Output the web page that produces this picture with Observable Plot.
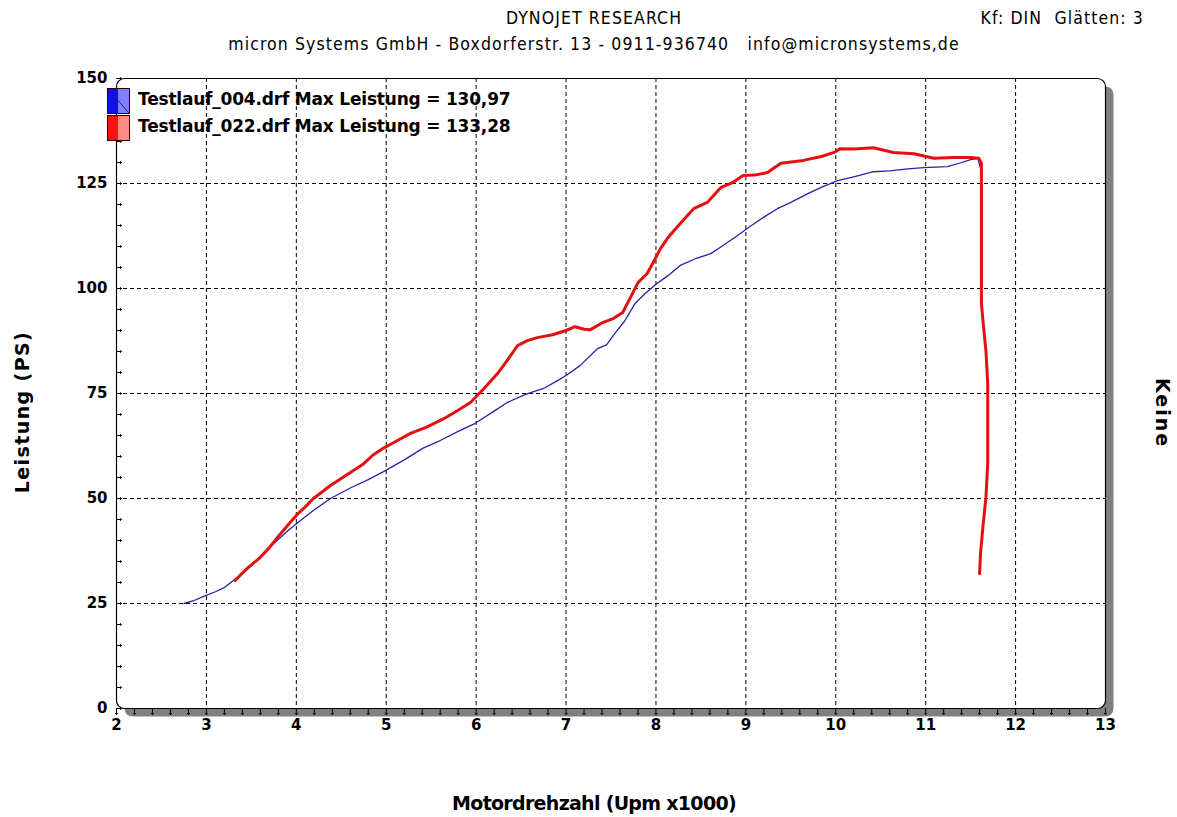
<!DOCTYPE html>
<html>
<head>
<meta charset="utf-8">
<script src="https://cdn.jsdelivr.net/npm/d3@7"></script>
<script src="https://cdn.jsdelivr.net/npm/@observablehq/plot@0.6"></script>
<style>
  html, body { margin: 0; padding: 0; background: #fff; }
  #wrap { position: relative; width: 1177px; height: 817px; overflow: hidden; font-family: "DejaVu Sans", sans-serif; color: #000; }
  .abs { position: absolute; white-space: pre; }
  .hdr { font-family: "DejaVu Sans Condensed", "DejaVu Sans", sans-serif; font-size: 17.5px; letter-spacing: 1.1px; }
  .leg { font-weight: bold; font-size: 17px; letter-spacing: -0.2px; }
  .sw { position: absolute; width: 23px; height: 26px; border: 1px solid #300; box-sizing: border-box; }
  #chart { position: absolute; left: 0; top: 60px; }
</style>
</head>
<body>
<div id="wrap">
  <div class="abs hdr" id="t1" style="left:0; width:1188px; text-align:center; top:8px;"></div>
  <div class="abs hdr" id="t3" style="right:33px; top:8px;"></div>
  <div class="abs hdr" id="t2" style="left:0; width:1188px; text-align:center; top:34px;"></div>
  <div id="chart"></div>
  <div id="legend"></div>
  <div class="abs" id="ylab" style="left:22px; top:412px; transform: translate(-50%,-50%) rotate(-90deg); font-weight:bold; font-size:19px; letter-spacing:1.4px;"></div>
  <div class="abs" id="rlab" style="left:1163px; top:413px; transform: translate(-50%,-50%) rotate(90deg); font-weight:bold; font-size:19px; letter-spacing:2px;"></div>
  <div class="abs" id="xlab" style="left:0; width:1188px; text-align:center; top:792px; font-weight:bold; font-size:19px; letter-spacing:-0.7px;"></div>
</div>
<script>
// ---- texts ----
const titleLine1 = "DYNOJET RESEARCH";
const titleLine2 = "micron Systems GmbH - Boxdorferstr. 13 - 0911-936740   info@micronsystems,de";
const titleRight = "Kf: DIN  Glätten: 3";
const yLabel = "Leistung (PS)";
const yRightLabel = "Keine";
const xLabel = "Motordrehzahl (Upm x1000)";
const seriesNames = ["Testlauf_004.drf Max Leistung = 130,97", "Testlauf_022.drf Max Leistung = 133,28"];
const seriesColors = ["#2424a8", "#e41010"];
const swatchColors = [["#1010e8", "#8080ff"], ["#ff1010", "#ff8888"]];

// ---- ticks ----
const xTicks = [2, 3, 4, 5, 6, 7, 8, 9, 10, 11, 12, 13];
const xGrid = [3, 4, 5, 6, 7, 8, 9, 10, 11, 12];
const xMinor = d3.range(10, 66).map(i => i / 5);
const yTicks = [0, 25, 50, 75, 100, 125, 150];
const yGrid = [25, 50, 75, 100, 125];
const yMinor = d3.range(0, 151, 5);

// ---- series: Testlauf_004 (blue) ----
const blueRpm = [2.75, 2.85, 2.97, 3.1, 3.2, 3.3, 3.45, 3.6, 3.75, 3.9, 4.0, 4.2, 4.38, 4.6, 4.8, 4.97, 5.2, 5.41, 5.6, 5.8, 5.99, 6.2, 6.35, 6.55, 6.75, 6.9, 7.0, 7.16, 7.35, 7.45, 7.55, 7.65, 7.77, 7.88, 8.0, 8.13, 8.27, 8.45, 8.61, 8.75, 8.9, 9.05, 9.2, 9.35, 9.5, 9.69, 9.85, 10.02, 10.2, 10.42, 10.6, 10.8, 10.98, 11.24, 11.4, 11.5, 11.58, 11.61];
const bluePS  = [25.0, 25.6, 26.7, 27.8, 28.8, 30.5, 33.0, 36.0, 39.3, 42.2, 44.0, 47.3, 50.0, 52.5, 54.5, 56.4, 59.2, 62.0, 63.8, 66.0, 67.9, 70.8, 72.9, 74.8, 76.2, 78.0, 79.3, 81.7, 85.7, 86.6, 89.5, 92.2, 96.5, 98.8, 101.0, 103.0, 105.5, 107.2, 108.3, 110.3, 112.5, 114.8, 117.0, 119.0, 120.5, 122.6, 124.2, 125.7, 126.6, 127.8, 128.0, 128.5, 128.8, 129.0, 130.0, 130.7, 131.0, 128.6];

// ---- series: Testlauf_022 (red) ----
const redRpm = [3.32, 3.45, 3.6, 3.7, 3.79, 3.9, 4.01, 4.1, 4.19, 4.3, 4.38, 4.55, 4.75, 4.85, 4.97, 5.1, 5.27, 5.45, 5.64, 5.8, 5.94, 6.08, 6.24, 6.35, 6.46, 6.57, 6.68, 6.85, 7.0, 7.1, 7.2, 7.27, 7.4, 7.53, 7.63, 7.72, 7.8, 7.9, 7.97, 8.05, 8.13, 8.27, 8.42, 8.57, 8.72, 8.85, 8.97, 9.1, 9.24, 9.39, 9.64, 9.85, 9.98, 10.05, 10.2, 10.42, 10.64, 10.87, 11.09, 11.31, 11.5, 11.59, 11.62, 11.62, 11.64, 11.67, 11.69, 11.69, 11.67, 11.64, 11.61, 11.6];
const redPS  = [30.5, 33.3, 36.0, 38.3, 40.7, 43.5, 46.2, 48.0, 50.0, 51.8, 53.1, 55.5, 58.3, 60.3, 62.0, 63.5, 65.5, 67.0, 69.0, 71.0, 72.9, 76.0, 79.8, 83.0, 86.4, 87.6, 88.3, 89.0, 90.0, 90.9, 90.3, 90.2, 91.8, 92.9, 94.3, 98.0, 101.4, 103.5, 106.2, 109.5, 112.0, 115.5, 119.0, 120.5, 124.0, 125.2, 126.9, 127.0, 127.6, 129.8, 130.5, 131.5, 132.4, 133.3, 133.2, 133.5, 132.4, 132.1, 131.0, 131.2, 131.2, 131.0, 129.8, 96.4, 91.7, 85.2, 77.4, 58.3, 50.2, 44.0, 36.9, 32.1];

// ---- header/labels ----
document.getElementById("t1").textContent = titleLine1;
document.getElementById("t2").textContent = titleLine2;
document.getElementById("t3").textContent = titleRight;
document.getElementById("ylab").textContent = yLabel;
document.getElementById("rlab").textContent = yRightLabel;
document.getElementById("xlab").textContent = xLabel;

// ---- legend ----
const leg = document.getElementById("legend");
seriesNames.forEach((name, i) => {
  const sw = document.createElement("div");
  sw.className = "sw";
  sw.style.left = "107px";
  sw.style.top = (88 + i * 27) + "px";
  sw.style.background = `linear-gradient(to right, ${swatchColors[i][0]} 0 50%, ${swatchColors[i][1]} 50% 100%)`;
  if (i === 0) {
    sw.innerHTML = '<svg width="21" height="24" style="position:absolute;left:0;top:0"><line x1="0" y1="0" x2="21" y2="24" stroke="#202060" stroke-width="1"/></svg>';
  }
  leg.appendChild(sw);
  const t = document.createElement("div");
  t.className = "abs leg";
  t.style.left = "138px";
  t.style.top = (89 + i * 27) + "px";
  t.textContent = name;
  leg.appendChild(t);
});

// ---- chart ----
const chart = Plot.plot({
  width: 1177,
  height: 700,
  marginTop: 18,
  marginBottom: 52,
  marginLeft: 116,
  marginRight: 72,
  x: { domain: [2, 13], label: null },
  y: { domain: [0, 150], label: null },
  style: { fontFamily: "DejaVu Sans, sans-serif", fontSize: "14px", fontWeight: "bold", color: "#000", background: "transparent" },
  marks: [
    Plot.frame({ fill: "#808080", stroke: null, dx: 8, dy: 8, rx: 8 }),
    Plot.frame({ fill: "white", stroke: null, rx: 8 }),
    Plot.gridX(xGrid, { stroke: "#000", strokeOpacity: 1, strokeDasharray: "4,3" }),
    Plot.gridY(yGrid, { stroke: "#000", strokeOpacity: 1, strokeDasharray: "4,3" }),
    Plot.frame({ stroke: "#000", fill: "none", rx: 8, strokeWidth: 1.2 }),
    // minor ticks: downward into the shadow band on x, inward on y
    Plot.vector(xMinor, { x: d => d, frameAnchor: "bottom", length: 6, rotate: 180, anchor: "start", stroke: "#000", strokeWidth: 1 }),
    Plot.vector(yMinor, { y: d => d, frameAnchor: "left", length: 5, rotate: 90, anchor: "start", stroke: "#000", strokeWidth: 1 }),
    Plot.axisX(xTicks, { tickSize: 0, tickPadding: 11, fontSize: 15, fontWeight: "bold" }),
    Plot.axisY(yTicks, { tickSize: 0, tickPadding: 9, fontSize: 15, fontWeight: "bold" }),
    Plot.line(blueRpm, { x: blueRpm, y: bluePS, stroke: seriesColors[0], strokeWidth: 1.3 }),
    Plot.line(redRpm, { x: redRpm, y: redPS, stroke: seriesColors[1], strokeWidth: 3 })
  ]
});
document.getElementById("chart").appendChild(chart);
</script>
</body>
</html>
